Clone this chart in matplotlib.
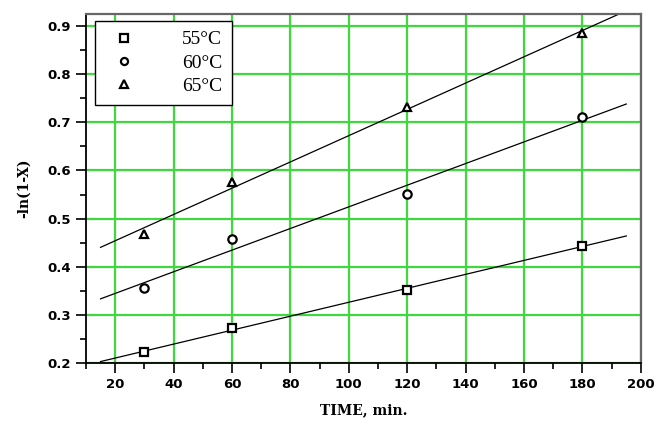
import numpy as np
import matplotlib
matplotlib.use('Agg')
import matplotlib.pyplot as plt
from matplotlib.ticker import MultipleLocator

# time (min) and -ln(1-X) for each temperature
time_min = [30, 60, 120, 180]
y_55 = [0.222, 0.273, 0.352, 0.443]
y_60 = [0.355, 0.458, 0.552, 0.710]
y_65 = [0.468, 0.577, 0.732, 0.885]
labels = ['55\u00b0C', '60\u00b0C', '65\u00b0C']
markers = ['s', 'o', '^']

fig = plt.figure(figsize=(6.56, 4.25), dpi=100)
ax = fig.add_axes([0.131, 0.146, 0.846, 0.821])

xfit = np.array([15, 195])
for y, m, lab in zip([y_55, y_60, y_65], markers, labels):
    k, b = np.polyfit(time_min, y, 1)
    ax.plot(xfit, k * xfit + b, color='black', lw=0.9)
    ax.plot(time_min, y, linestyle='none', marker=m, ms=6, mfc='white',
            mec='black', mew=1.6, label=lab)

ax.set_xlim(10, 200)
ax.set_ylim(0.2, 0.925)
ax.xaxis.set_major_locator(MultipleLocator(20))
ax.xaxis.set_minor_locator(MultipleLocator(10))
ax.yaxis.set_major_locator(MultipleLocator(0.1))
ax.yaxis.set_minor_locator(MultipleLocator(0.05))
ax.grid(True, which='major', color='#3fd83f', lw=1.6)
ax.set_axisbelow(True)
ax.tick_params(which='both', direction='out', width=1.2, top=False, right=False)
ax.tick_params(which='major', length=7, labelsize=9.5)
ax.tick_params(which='minor', length=4)
for t in ax.get_xticklabels() + ax.get_yticklabels():
    t.set_fontweight('bold')
ax.yaxis.set_major_formatter(plt.FuncFormatter(lambda v, p: f'{v:.1f}'))
for s in ['left', 'bottom']:
    ax.spines[s].set_linewidth(1.3)
for s in ['top', 'right']:
    ax.spines[s].set_color('#666666')
    ax.spines[s].set_linewidth(1.6)

ax.set_xlabel('TIME, min.', fontweight='bold', fontsize=10, family='DejaVu Serif', labelpad=9)
ax.set_ylabel('-ln(1-X)', fontweight='bold', fontsize=10, family='DejaVu Serif', labelpad=12)

leg = ax.legend(loc='upper left', bbox_to_anchor=(0.016, 0.98), fancybox=False,
                framealpha=1, edgecolor='black', prop={'family': 'Liberation Serif', 'size': 14},
                handlelength=2.0, handletextpad=2.0, borderpad=0.5, labelspacing=0.3,
                borderaxespad=0.0, markerscale=0.85)
leg.get_frame().set_linewidth(1.0)

fig.savefig('out.png', dpi=100)
